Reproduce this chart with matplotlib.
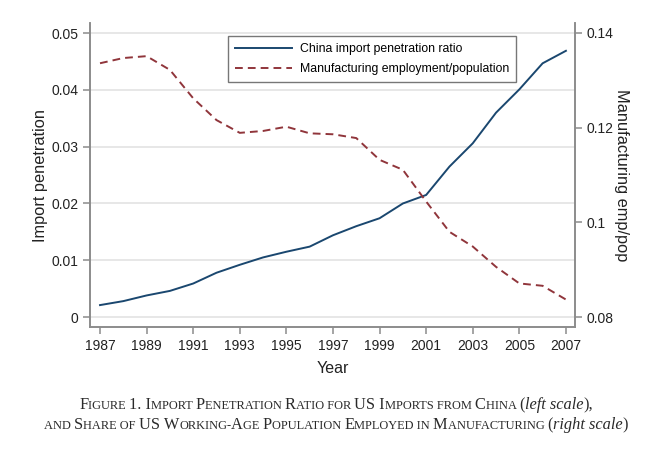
import matplotlib
matplotlib.use('Agg')
import matplotlib.pyplot as plt
from matplotlib.offsetbox import TextArea, HPacker, VPacker, AnnotationBbox

years = list(range(1987, 2008))
china_import_ratio = [0.0021, 0.0028, 0.0038, 0.0046, 0.0059, 0.0078, 0.0092, 0.0105,
                      0.0115, 0.0124, 0.0144, 0.0160, 0.0174, 0.0200, 0.0215, 0.0265,
                      0.0306, 0.0360, 0.0401, 0.0447, 0.0469]
mfg_emp_pop = [0.1336, 0.1347, 0.1351, 0.1322, 0.1262, 0.1216, 0.1189, 0.1193,
               0.1202, 0.1188, 0.1186, 0.1178, 0.1132, 0.1111, 0.1044, 0.0980,
               0.0949, 0.0906, 0.0871, 0.0866, 0.0837]
left_ticks = [0, 0.01, 0.02, 0.03, 0.04, 0.05]
left_labels = ['0', '0.01', '0.02', '0.03', '0.04', '0.05']
right_ticks = [0.08, 0.10, 0.12, 0.14]
right_labels = ['0.08', '0.1', '0.12', '0.14']
x_ticks = list(range(1987, 2008, 2))

navy = '#1a476f'
maroon = '#90353b'
spine_grey = '#8c8c8c'

plt.rcParams['font.family'] = ['Liberation Sans', 'DejaVu Sans']

fig = plt.figure(figsize=(6.5, 4.51), dpi=100)
# axes box in pixels: x 90..575, y 23..327 (from top)
ax = fig.add_axes([90 / 650, 1 - 327 / 451, 485 / 650, 304 / 451])
ax2 = ax.twinx()

l1, = ax.plot(years, china_import_ratio, color=navy, lw=1.4,
              label='China import penetration ratio')
l2, = ax2.plot(years, mfg_emp_pop, color=maroon, lw=1.4, linestyle=(0, (4, 2.6)),
               label='Manufacturing employment/population')

ax.set_xlim(1986.57, 2007.39)
ax.set_ylim(-0.00176, 0.0518)
ax2.set_ylim(0.0779, 0.1421)

ax.set_xticks(x_ticks)
ax.set_yticks(left_ticks, left_labels)
ax2.set_yticks(right_ticks, right_labels)

ax.yaxis.grid(True, color='#e3e3e3', lw=1.2)
ax.set_axisbelow(True)

for a in (ax, ax2):
    a.spines['top'].set_visible(False)
    for s in ('left', 'right', 'bottom'):
        a.spines[s].set_color(spine_grey)
        a.spines[s].set_linewidth(1.2)
    a.tick_params(colors=spine_grey, labelcolor='#222222', labelsize=10,
                  length=5, width=1.1)

ax.set_xlabel('Year', fontsize=11.5, color='#222222', labelpad=6)
ax.set_ylabel('Import penetration', fontsize=11.8, color='#222222', labelpad=2)
ax2.set_ylabel('Manufacturing emp/pop', fontsize=11.8, color='#222222',
               rotation=270, labelpad=11)

leg = ax.legend(handles=[l1, l2], loc='upper left', bbox_to_anchor=(0.285, 0.957),
                borderaxespad=0, fontsize=8.8, fancybox=False, edgecolor='#555555',
                handlelength=4.7, labelspacing=0.7, borderpad=0.55, handletextpad=0.65)
leg.get_frame().set_linewidth(1.0)


# caption in fake small caps
def small_caps(text, big=11.8, small=8.9, italic=False):
    if italic:
        return [TextArea(text, textprops=dict(family='Liberation Serif', size=big,
                                              style='italic', color='#2a2a2a'))]
    parts = []
    cur, cur_big = '', None
    for ch in text:
        is_big = not ch.islower()
        if cur_big is None or is_big == cur_big or ch in ' -':
            cur += ch
            if ch not in ' -':
                cur_big = is_big if cur_big is None else cur_big
        else:
            parts.append((cur, cur_big))
            cur, cur_big = ch, is_big
    if cur:
        parts.append((cur, cur_big))
    out = []
    for seg, b in parts:
        out.append(TextArea(seg.upper(), textprops=dict(family='Liberation Serif',
                                                        size=big if b else small,
                                                        color='#2a2a2a')))
    return out


line1 = (small_caps('Figure 1. Import Penetration Ratio for US Imports from China (')
         + small_caps('left scale', italic=True) + small_caps('),'))
line2 = (small_caps('and Share of US Working-Age Population Employed in Manufacturing (')
         + small_caps('right scale', italic=True) + small_caps(')'))
box = VPacker(children=[HPacker(children=line1, align='baseline', pad=0, sep=0),
                        HPacker(children=line2, align='baseline', pad=0, sep=0)],
              align='center', pad=0, sep=3)
ab = AnnotationBbox(box, (336 / 650, 1 - 415 / 451), xycoords='figure fraction',
                    frameon=False)
fig.add_artist(ab)

fig.savefig('out.png', dpi=100)
